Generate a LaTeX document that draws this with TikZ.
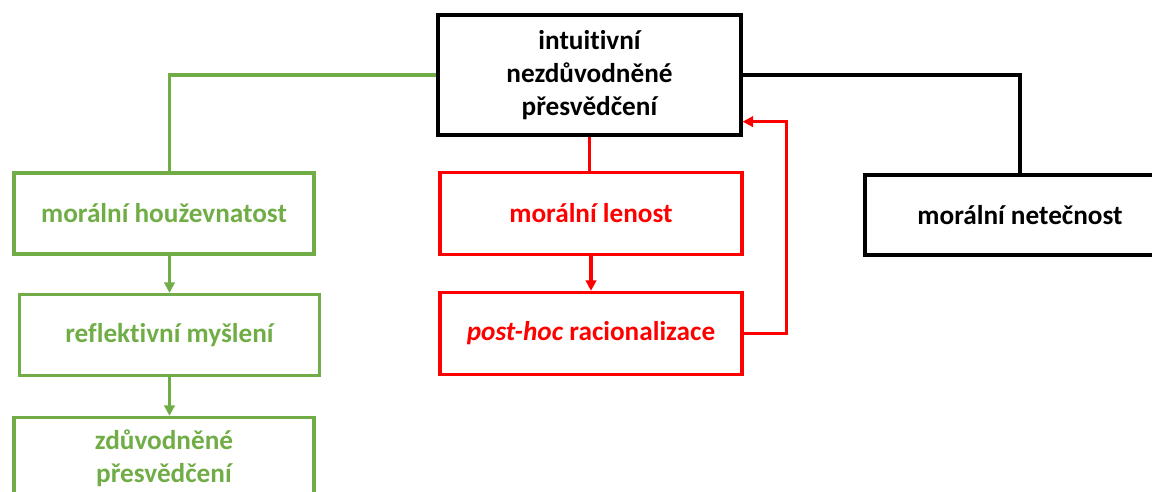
\documentclass[tikz,border=0pt]{standalone}
\usepackage{fontspec}
\setmainfont{Carlito}[Ligatures={NoCommon}]
\usepackage{xcolor}
\usetikzlibrary{arrows.meta}
\definecolor{okgreen}{RGB}{112,173,71}
\definecolor{okred}{RGB}{255,0,0}

\begin{document}
\begin{tikzpicture}[x=0.02cm,y=-0.02cm]
            \tikzset{
                box/.style={draw, shape = rectangle, line width=1.9pt, align=center,
                    font=\fontsize{15.5}{18.8}\selectfont\bfseries, inner sep=0pt},
                top_node/.style={box, minimum width=6.06cm, minimum height=2.4cm},
                green_box/.style={box, draw=okgreen, text=okgreen, minimum width=6cm, minimum height=1.62cm},
                red_box/.style={box, draw=okred, text=okred, minimum width=6.04cm, minimum height=1.64cm},
                black_box/.style={box, minimum width=6.2cm, minimum height=1.6cm},
                tip/.style={-{Triangle[length=6pt,width=6pt]}}
            }
            \useasboundingbox (0,0) rectangle (1152,492);
            \node[top_node] (A) at (589.5,75) {intuitivní\\nezdůvodněné\\přesvědčení};
            % green branch
            \node[green_box] (hou) at (164,213.5) {morální houževnatost};
            \node[green_box] (ref) at (169.5,335) {reflektivní myšlení};
            \node[green_box] (zdu) at (164,458) {zdůvodněné\\přesvědčení};
            % red branch
            \node[red_box] (len) at (591,213.5) {morální lenost};
            \node[red_box] (post) at (591,333.5) {\textit{post-hoc} racionalizace};
            % black branch
            \node[black_box] (net) at (1020,215) {morální netečnost};
            \draw[okgreen, line width=1.9pt] (A.west) -| (ref.north |- hou.north);
            \draw[okgreen, line width=1.9pt, tip] (ref.north |- hou.south) -- (ref.north);
            \draw[okgreen, line width=1.9pt, tip] (ref.south) -- (ref.south |- zdu.north);
            \draw[okred, line width=1.9pt] (A.south) -- (A.south |- len.north);
            \draw[okred, line width=1.9pt, tip] (len.south) -- (post.north);
            \draw[okred, line width=1.9pt, tip] (post.east) -- ([xshift=0.86cm]post.east) |- ([yshift=0.3cm]A.south east);
            \draw[line width=1.9pt] (A.east) -| (net.north);
        \end{tikzpicture}
\end{document}
